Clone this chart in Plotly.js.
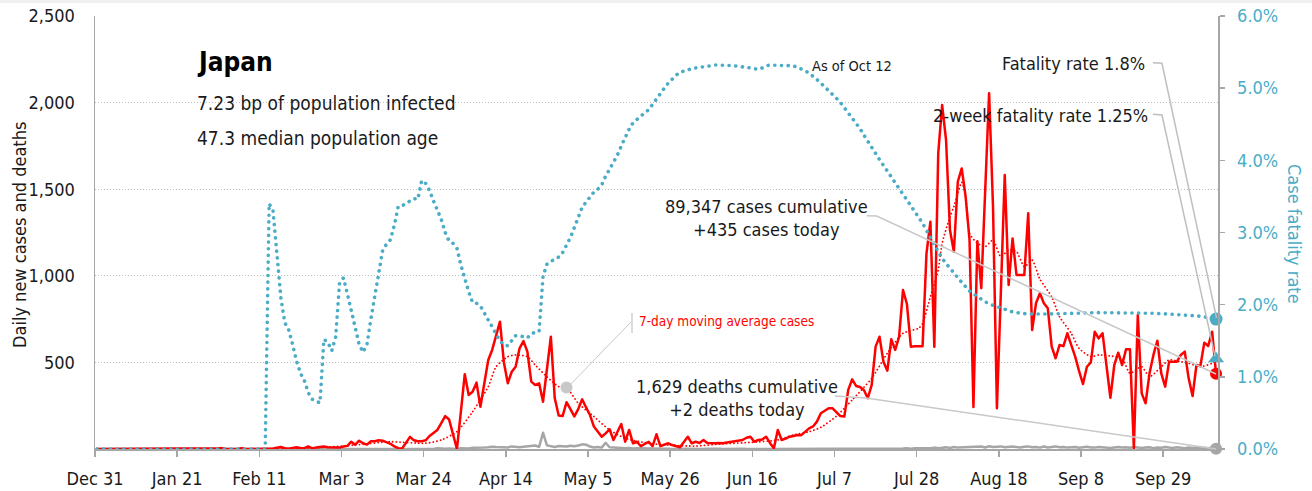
<!DOCTYPE html>
<html>
<head>
<meta charset="utf-8">
<script src="https://cdn.plot.ly/plotly-3.0.1.min.js"></script>
<style>
  html, body { margin: 0; padding: 0; background: #ffffff; }
  #chart { width: 1312px; height: 491px; }
  .scatterlayer .js-line { stroke-linecap: round !important; stroke-linejoin: round !important; }
</style>
</head>
<body>
<div id="chart"></div>
<script>
// ---------------- DATA ----------------
const startDate = '2019-12-31';
const tickDates = ['2019-12-31','2020-01-21','2020-02-11','2020-03-03','2020-03-24','2020-04-14','2020-05-05','2020-05-26','2020-06-16','2020-07-07','2020-07-28','2020-08-18','2020-09-08','2020-09-29'];
const tickLabels = ['Dec 31','Jan 21','Feb 11','Mar 3','Mar 24','Apr 14','May 5','May 26','Jun 16','Jul 7','Jul 28','Aug 18','Sep 8','Sep 29'];

// daily new cases, one value per day from Dec 31
const dailyCases = [
  0,0,0,0,0,0,0,0,0,0,
  0,0,0,0,0,0,0,0,0,0,
  0,0,2,0,0,0,2,0,3,0,
  4,4,5,0,0,0,0,5,0,0,
  0,0,2,0,3,3,8,12,5,2,
  6,10,6,5,15,4,8,12,14,10,
  10,12,8,14,18,42,25,48,33,25,
  45,45,50,48,40,30,15,5,3,40,
  70,50,45,45,50,75,90,110,150,190,
  170,80,0,215,432,312,330,383,244,380,
  514,572,650,735,500,380,446,475,581,623,
  562,389,370,379,273,460,648,293,193,190,
  270,230,188,230,287,240,196,130,100,71,
  90,114,52,100,144,42,110,33,42,17,
  30,42,17,85,17,25,33,23,15,10,
  40,71,33,42,35,52,35,33,33,35,
  33,38,42,45,50,52,65,71,42,52,
  55,71,35,4,110,52,60,71,75,81,
  80,100,119,130,158,206,220,235,235,210,
  190,187,341,402,364,358,341,293,370,591,
  648,504,452,633,572,648,918,837,591,593,
  593,593,1130,1312,591,1707,1986,1784,1264,1139,
  1543,1620,1457,1207,242,1200,928,1500,2054,1400,
  235,900,1582,947,1216,1005,1005,1005,1361,687,
  843,899,841,813,591,524,600,594,668,600,
  533,450,375,475,500,677,639,668,475,296,
  485,556,485,576,576,4,774,321,264,437,
  543,625,437,360,504,504,504,543,562,408,
  306,485,479,614,595,677,435
];

// daily new deaths, one value per day from Dec 31
const dailyDeaths = [
  0,0,0,0,0,0,0,0,0,0,
  0,0,0,0,0,0,0,0,0,0,
  0,0,0,0,0,0,0,0,0,0,
  0,0,0,0,0,0,0,0,0,0,
  0,0,0,0,0,0,0,0,0,0,
  0,0,0,1,0,1,0,1,1,0,
  0,1,1,0,1,0,1,0,1,0,
  2,0,0,1,2,0,1,3,1,0,
  1,1,2,3,2,0,0,5,2,1,
  3,2,0,5,3,3,7,6,5,8,
  10,13,11,10,8,9,15,12,10,13,
  14,16,20,12,94,21,16,12,17,15,
  14,19,16,20,27,25,14,9,12,8,
  36,10,8,6,5,4,6,3,5,4,
  3,2,2,1,3,2,1,0,2,1,
  1,0,0,1,1,0,1,2,0,1,
  0,1,0,0,1,1,0,0,1,0,
  2,0,1,0,0,0,0,0,0,1,
  0,1,0,0,0,1,0,1,1,0,
  0,1,0,2,0,0,1,0,0,1,
  0,2,3,1,4,2,3,5,2,4,
  3,6,5,4,8,5,7,10,6,12,
  8,9,11,13,10,12,14,9,16,11,
  13,15,10,12,14,11,9,13,15,10,
  12,8,14,9,11,15,10,12,8,9,
  11,7,10,13,9,8,12,10,7,6,
  9,11,8,10,7,12,9,6,8,10,
  5,9,7,11,8,6,10,7,5,8,
  6,9,4,7,5,8,2
];

// 7-day moving average of cases, read at these day offsets from Dec 31
const maDays = [0,40,55,66,75,84,88,92,96,100,102,105,107,110,112,115,118,120,123,127,131,135,141,146,153,160,167,174,178,182,185,189,193,198,202,206,210,211,213,215,216,218,219,221,222,223,225,227,229,231,233,235,237,239,241,244,246,249,251,254,256,259,262,264,267,269,272,274,277,279,282,285,286];
const maValues = [0,1,6,23,42,33,52,100,215,360,475,533,543,533,485,417,360,355,264,187,110,62,33,23,17,30,38,52,81,100,125,190,283,408,553,668,697,724,879,1034,1188,1341,1399,1540,1457,1245,1188,1168,1207,1110,1149,1140,1053,1090,980,879,764,668,581,533,543,537,524,437,475,417,475,514,504,495,475,495,514];

// case fatality rate (%), read at these day offsets from Dec 31
const cfrDays = [0,43,44,45,46,47,48,49,50,51,52,53,54,55,56,57,58,59,60,61,62,63,64,65,66,67,68,69,70,71,72,73,74,75,76,77,78,79,80,81,82,83,84,85,86,87,88,89,90,91,92,93,94,95,96,97,98,99,100,101,102,103,104,105,106,107,108,109,110,111,112,113,114,115,116,117,118,119,120,121,122,123,124,125,126,127,128,129,130,131,132,133,134,135,136,137,138,139,140,141,142,143,144,145,146,147,148,149,150,151,152,153,154,155,156,157,158,159,160,161,162,163,164,165,166,167,168,169,170,171,172,173,174,175,176,177,178,179,180,181,182,183,184,185,186,187,188,189,190,191,192,193,194,195,196,197,198,199,200,201,202,203,204,205,206,207,208,209,210,211,212,213,214,215,216,217,218,219,220,221,222,223,224,225,226,227,228,229,230,231,232,233,234,235,236,238,242,246,250,255,260,266,270,274,278,282,284,286];
const cfrValues = [0,0,3.40,3.30,2.70,2.10,1.75,1.65,1.45,1.22,1.05,0.95,0.78,0.69,0.66,0.64,1.52,1.48,1.36,1.55,2.30,2.37,2.15,1.90,1.65,1.45,1.34,1.45,1.80,2.12,2.45,2.75,2.84,2.90,3.10,3.36,3.37,3.40,3.44,3.47,3.46,3.72,3.68,3.58,3.44,3.32,3.18,3.00,2.88,2.85,2.78,2.55,2.36,2.18,2.03,2.02,1.98,1.88,1.78,1.68,1.58,1.50,1.44,1.43,1.50,1.57,1.57,1.56,1.54,1.60,1.61,1.63,2.39,2.56,2.60,2.63,2.66,2.72,2.82,2.93,3.07,3.22,3.35,3.42,3.50,3.56,3.60,3.66,3.78,3.88,3.97,4.07,4.20,4.32,4.43,4.52,4.57,4.62,4.66,4.70,4.78,4.86,4.94,5.00,5.07,5.13,5.18,5.22,5.24,5.26,5.27,5.28,5.29,5.30,5.30,5.31,5.32,5.32,5.32,5.32,5.31,5.31,5.30,5.30,5.29,5.28,5.27,5.26,5.28,5.31,5.32,5.32,5.32,5.32,5.32,5.32,5.31,5.29,5.27,5.24,5.21,5.17,5.12,5.07,5.02,4.97,4.92,4.86,4.80,4.73,4.66,4.60,4.52,4.44,4.35,4.26,4.17,4.09,4.01,3.93,3.85,3.77,3.69,3.60,3.52,3.44,3.36,3.29,3.22,3.13,3.03,2.93,2.84,2.74,2.64,2.57,2.50,2.43,2.37,2.31,2.25,2.19,2.15,2.11,2.07,2.04,2.01,1.99,1.97,1.95,1.93,1.91,1.90,1.89,1.88,1.87,1.87,1.87,1.88,1.89,1.89,1.89,1.88,1.87,1.86,1.84,1.82,1.80];

const twoWeekFatalityRate = 1.25;
const fatalityRate = 1.8;
const cumulativeCases = '89,347';
const cumulativeDeaths = '1,629';
const maCalloutDay = 120;

// ---------------- HELPERS ----------------
const DAY = 86400000;
const t0 = Date.UTC(2019, 11, 31);
function dayToDate(d) {
  // points sit at the middle of their day
  return new Date(t0 + d * DAY + DAY / 2).toISOString().slice(0, 19).replace('T', ' ');
}
const dayIdx = dailyCases.map((_, i) => i);
const xCases = dayIdx.map(dayToDate);
const xMA = maDays.map(dayToDate);
const xCFR = cfrDays.map(dayToDate);
const lastDay = dailyCases.length - 1;
const xLast = dayToDate(lastDay);

const FONT = '"Liberation Sans Narrow", "Arial Narrow", "DejaVu Sans Condensed", "Roboto Condensed", sans-serif';
const BLUE = '#4BACC6';
const RED = '#FF0000';
const GREY = '#A6A6A6';
const TXT = '#1a1a1a';

// ---------------- TRACES ----------------
const traces = [
  { x: xCases, y: dailyDeaths, type: 'scatter', mode: 'lines',
    line: { color: GREY, width: 2.5 }, hoverinfo: 'skip' },
  { x: xMA, y: maValues, type: 'scatter', mode: 'lines',
    line: { color: RED, width: 1.8, dash: '0.1px,3.6px', shape: 'spline', smoothing: 0.6 }, hoverinfo: 'skip' },
  { x: xCases, y: dailyCases, type: 'scatter', mode: 'lines',
    line: { color: RED, width: 2.5 }, hoverinfo: 'skip' },
  { x: [dayToDate(maCalloutDay)], y: [maValues[maDays.indexOf(maCalloutDay)]], type: 'scatter', mode: 'markers',
    marker: { color: '#C8C8C8', size: 12 }, hoverinfo: 'skip' },
  { x: [xLast], y: [dailyCases[lastDay]], type: 'scatter', mode: 'markers',
    marker: { color: RED, size: 12 }, cliponaxis: false, hoverinfo: 'skip' },
  { x: [xLast], y: [dailyDeaths[lastDay]], type: 'scatter', mode: 'markers',
    marker: { color: GREY, size: 12 }, cliponaxis: false, hoverinfo: 'skip' },
  { x: xCFR, y: cfrValues, type: 'scatter', mode: 'lines', yaxis: 'y2',
    line: { color: BLUE, width: 3.6, dash: '0.1px,6.6px' }, hoverinfo: 'skip' },
  { x: [xLast], y: [fatalityRate], type: 'scatter', mode: 'markers', yaxis: 'y2',
    marker: { color: BLUE, size: 13 }, cliponaxis: false, hoverinfo: 'skip' },
  { x: [xLast], y: [twoWeekFatalityRate], type: 'scatter', mode: 'markers', yaxis: 'y2',
    marker: { color: BLUE, size: 14, symbol: 'triangle-up' }, cliponaxis: false, hoverinfo: 'skip' }
];

// ---------------- LAYOUT ----------------
const L = 95, R = 1218, T = 16, B = 449;
const W = R - L, H = B - T;
const px = x => (x - L) / W;
const py = y => (B - y) / H;

function ann(text, x, y, opts) {
  return Object.assign({ text: text, xref: 'paper', yref: 'paper', x: px(x), y: py(y),
    showarrow: false, xanchor: 'left', yanchor: 'middle',
    font: { family: FONT, size: 18, color: TXT } }, opts || {});
}
function seg(pts, color, width) {
  const d = pts.map((p, i) => (i ? 'L' : 'M') + px(p[0]).toFixed(4) + ',' + py(p[1]).toFixed(4)).join(' ');
  return { type: 'path', xref: 'paper', yref: 'paper', path: d, layer: 'above',
    line: { color: color, width: width } };
}

const layout = {
  width: 1312, height: 491,
  margin: { l: L, r: 1312 - R, t: T, b: 491 - B, pad: 0 },
  paper_bgcolor: '#ffffff', plot_bgcolor: '#ffffff',
  showlegend: false, hovermode: false,
  font: { family: FONT, size: 18, color: TXT },
  xaxis: {
    type: 'date', range: [startDate, '2020-10-13'],
    tickmode: 'array', tickvals: tickDates, ticktext: tickLabels,
    ticks: 'outside', ticklen: 6, tickwidth: 1.5, tickcolor: GREY,
    showline: true, linecolor: GREY, linewidth: 2,
    showgrid: false, zeroline: false,
    tickfont: { family: FONT, size: 18, color: TXT }, ticklabelstandoff: 6
  },
  yaxis: {
    range: [0, 2500], tickmode: 'array', tickvals: [500, 1000, 1500, 2000, 2500],
    ticktext: ['500', '1,000', '1,500', '2,000', '2,500'],
    showline: true, linecolor: GREY, linewidth: 1.5,
    showgrid: true, gridcolor: '#BFBFBF', gridwidth: 1, griddash: '1px,2px',
    zeroline: false, ticks: '', ticklabelstandoff: 15,
    tickfont: { family: FONT, size: 18, color: TXT }
  },
  yaxis2: {
    overlaying: 'y', side: 'right', range: [0, 6],
    tickmode: 'array', tickvals: [0, 1, 2, 3, 4, 5, 6],
    ticktext: ['0.0%', '1.0%', '2.0%', '3.0%', '4.0%', '5.0%', '6.0%'],
    showline: true, linecolor: GREY, linewidth: 1.5,
    ticks: 'outside', ticklen: 5, tickwidth: 1.5, tickcolor: GREY,
    showgrid: false, zeroline: false, ticklabelstandoff: 9,
    tickfont: { family: FONT, size: 18, color: BLUE }
  },
  annotations: [
    ann('Japan', 195, 62, { font: { family: FONT, size: 26, color: '#000000', weight: 'bold' } }),
    ann('7.23 bp of population infected', 195, 102.5, { font: { family: FONT, size: 19, color: TXT } }),
    ann('47.3 median population age', 195, 137.5, { font: { family: FONT, size: 19, color: TXT } }),
    ann('As of Oct 12', 810, 66.5, { font: { family: FONT, size: 14.5, color: TXT } }),
    ann('Fatality rate ' + fatalityRate + '%', 1147, 64, { xanchor: 'right' }),
    ann('2-week fatality rate ' + twoWeekFatalityRate + '%', 1150, 115.5, { xanchor: 'right' }),
    ann(cumulativeCases + ' cases cumulative<br>+' + dailyCases[lastDay] + ' cases today', 766, 218, { xanchor: 'center', align: 'center' }),
    ann(cumulativeDeaths + ' deaths cumulative<br>+' + dailyDeaths[lastDay] + ' deaths today', 737, 398, { xanchor: 'center', align: 'center' }),
    ann('7-day moving average cases', 637, 320.5, { font: { family: FONT, size: 13.5, color: RED } }),
    ann('Daily new cases and deaths', 19, 235, { xanchor: 'center', textangle: -90 }),
    ann('Case fatality rate', 1295, 234, { xanchor: 'center', textangle: 90, font: { family: FONT, size: 18, color: BLUE } })
  ],
  shapes: [
    { type: 'rect', xref: 'paper', yref: 'paper', x0: px(0), x1: px(1312), y0: py(3), y1: py(0),
      fillcolor: '#F0F0F0', line: { width: 0 }, layer: 'below' },
    seg([[632, 313], [632, 333]], '#D0D0D0', 1.5),
    seg([[631, 322], [568, 387]], '#C8C8C8', 1),
    seg([[1153, 62.7], [1162, 63.3], [1216.5, 318]], '#BFBFBF', 1.5),
    seg([[1153, 114.3], [1162, 115], [1215, 356]], '#BFBFBF', 1.5),
    seg([[866.7, 215.7], [876.7, 216], [1216, 374]], '#C8C8C8', 1.5),
    seg([[835, 396], [866, 398], [1216, 449]], '#C8C8C8', 1.5)
  ]
};

Plotly.newPlot('chart', traces, layout, { displayModeBar: false, staticPlot: true });
</script>
</body>
</html>
